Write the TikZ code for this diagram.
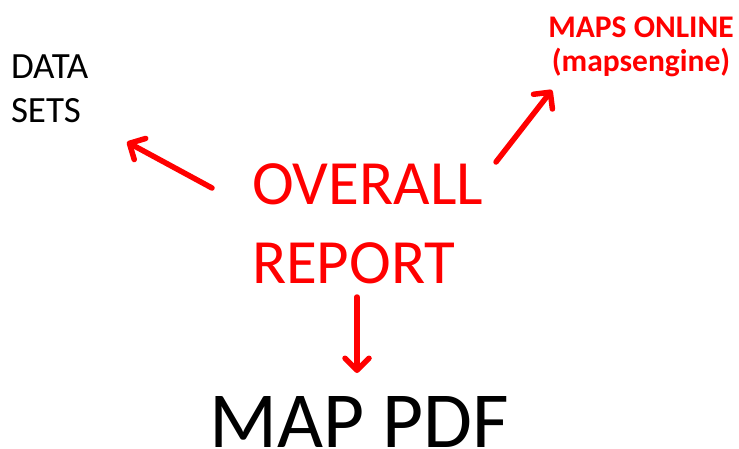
\documentclass[tikz,border=0pt]{standalone}
\usepackage{fontspec}
\setmainfont{Carlito}
\usetikzlibrary{arrows.meta}
\definecolor{pptred}{RGB}{255,0,0}
\tikzset{
  redarrow/.style={draw=pptred, line width=5.5pt, line cap=round, line join=round,
    -{Straight Barb[length=12pt,width=24pt,line width=5.5pt,round]}},
  lbl/.style={inner sep=0pt, outer sep=0pt}
}
\begin{document}
\begin{tikzpicture}[x=1pt,y=-1pt]
\useasboundingbox (0,0) rectangle (739,448);
\node[lbl, anchor=west, align=left, font=\fontsize{37}{44}\selectfont] (data) at (11,89) {DATA\\SETS};
\node[lbl, align=center, text=pptred, font=\fontsize{31.5}{34}\selectfont\bfseries] (maps) at (641,47) {MAPS ONLINE\\(mapsengine)};
\node[lbl, anchor=west, align=left, text=pptred, font=\fontsize{63}{79}\selectfont] (report) at (252,224) {OVERALL\\REPORT};
\node[lbl, font=\fontsize{79.5}{90}\selectfont] (pdf) at (359,422) {MAP PDF};
\coordinate (a1s) at (212,188);
\coordinate (a1e) at (127,142);
\coordinate (a2s) at (496,162);
\coordinate (a2e) at (552,90);
\coordinate (a3s) at (357,297);
\coordinate (a3e) at (357,373);
\draw[redarrow] (a1s) -- (a1e);
\draw[redarrow] (a2s) -- (a2e);
\draw[redarrow] (a3s) -- (a3e);
\end{tikzpicture}
\end{document}
